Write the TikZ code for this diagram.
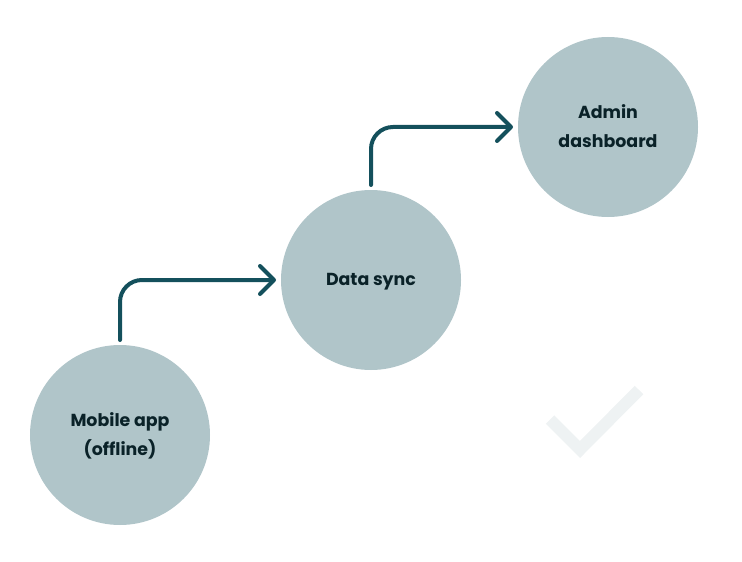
\documentclass[tikz,border=0pt]{standalone}
\usepackage{fontspec}
\setmainfont{Poppins}
\usetikzlibrary{arrows.meta,positioning}
\definecolor{syncCircle}{RGB}{176, 197, 201}
\definecolor{syncArrow}{RGB}{20, 80, 92}
\definecolor{syncText}{RGB}{10, 34, 40}
\definecolor{syncCheck}{RGB}{238, 242, 243}

\begin{document}
\begin{tikzpicture}[
        on grid,
        stage/.style={circle, fill=syncCircle, text=syncText, minimum size=3.6cm, outer sep=0.1cm, align=center, text depth=0.1em, font=\fontsize{9.9}{16.2}\selectfont\bfseries},
        arrow/.style={-{Straight Barb[length=0.28cm, width=0.56cm, round]}, line width=0.08cm, draw=syncArrow, line cap=round, rounded corners=0.44cm}
    ]
        \useasboundingbox (0,0) rectangle (14.84,11.22);

        % Check mark
        \draw[draw=syncCheck, line width=0.24cm] (11,2.83) -- (11.6,2.23) -- (12.78,3.42);

        % Stages
        \node[stage] (mobile) at (2.4,2.52) {Mobile app\\(offline)};
        \node[stage, above right=3.1cm and 5.02cm of mobile] (sync) {Data sync};
        \node[stage, above right=3.06cm and 4.74cm of sync] (admin) {Admin\\dashboard};

        % Arrows
        \draw[arrow] (mobile.north) |- (sync.west);
        \draw[arrow] (sync.north) |- (admin.west);

    \end{tikzpicture}
\end{document}
